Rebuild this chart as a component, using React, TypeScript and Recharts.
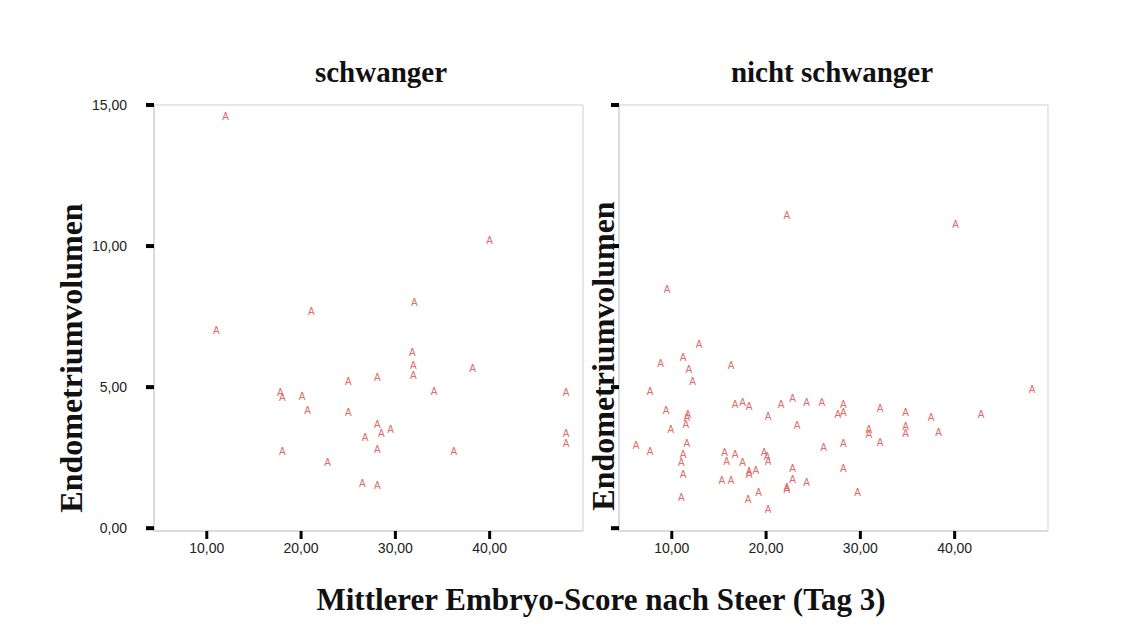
import React from 'react';
import { ScatterChart, Scatter, XAxis, YAxis, ReferenceArea } from 'recharts';

// Mittlerer Embryo-Score (x) und Endometriumvolumen (y)
const schwangerScore = [
  12.0, 11.0, 21.1, 25.0, 17.8, 18.0, 20.1, 20.7, 25.0, 26.8, 18.0, 22.8, 26.5, 32.0, 31.8,
  31.9, 31.9, 28.1, 38.2, 34.1, 48.1, 28.1, 28.5, 29.5, 28.1, 36.2, 48.1, 48.1, 28.1, 40.0,
];
const schwangerVolumen = [
  14.6, 7.0, 7.67, 5.21, 4.8, 4.64, 4.66, 4.17, 4.09, 3.23, 2.73, 2.32, 1.58, 8.0, 6.24,
  5.77, 5.41, 5.33, 5.68, 4.86, 4.8, 3.68, 3.35, 3.5, 2.79, 2.73, 3.35, 3.01, 1.5, 10.2,
];

const nichtScore = [
  22.2, 9.5, 40.1, 12.9, 8.8, 11.2, 11.8, 12.2, 16.3, 7.7, 9.4, 9.9, 11.7, 11.6, 11.5, 11.6,
  6.2, 7.7, 11.2, 11.0, 11.2, 11.0, 16.7, 17.5, 18.2, 20.2, 21.6, 22.8, 24.3, 23.3, 15.6,
  16.7, 15.8, 17.5, 19.8, 20.1, 20.2, 18.2, 18.2, 18.9, 15.3, 16.3, 22.8, 22.8, 22.2, 22.2,
  24.3, 19.2, 18.1, 20.2, 25.9, 28.2, 27.6, 28.2, 32.1, 34.8, 37.5, 42.8, 48.2, 30.9, 30.9,
  34.8, 34.8, 38.3, 32.1, 26.1, 28.2, 28.2, 29.7,
];
const nichtVolumen = [
  11.1, 8.45, 10.78, 6.53, 5.84, 6.04, 5.62, 5.21, 5.77, 4.86, 4.19, 3.5, 4.03, 3.92, 3.68, 3.01,
  2.95, 2.73, 2.62, 2.32, 1.91, 1.09, 4.39, 4.47, 4.33, 3.97, 4.39, 4.59, 4.45, 3.64, 2.68,
  2.62, 2.38, 2.32, 2.68, 2.56, 2.38, 2.03, 1.89, 2.05, 1.71, 1.71, 2.11, 1.73, 1.44, 1.38,
  1.64, 1.28, 1.03, 0.67, 4.45, 4.39, 4.03, 4.09, 4.23, 4.11, 3.92, 4.03, 4.92, 3.5, 3.33,
  3.62, 3.35, 3.41, 3.05, 2.88, 3.0, 2.11, 1.28,
];

const xTicks = [10, 20, 30, 40];
const yTicks = [0, 5, 10, 15];

const X_MIN = 4.4;
const X_MAX = 49.9;
const Y_MIN = -0.1;
const Y_MAX = 15;

const fmt = (v: number) => v.toFixed(2).replace('.', ',');

const Marker = (props: any) => {
  const { cx, cy } = props;
  return (
    <text
      x={cx}
      y={cy}
      dy="0.36em"
      textAnchor="middle"
      fontSize={10}
      fontFamily="Liberation Sans, Arial, sans-serif"
      fill="#e06a6a"
    >
      A
    </text>
  );
};

const Panel = ({
  score,
  volumen,
  left,
  showLabels,
}: {
  score: number[];
  volumen: number[];
  left: number;
  showLabels: boolean;
}) => {
  const data = score.map((x, i) => ({ x, y: volumen[i] }));
  const plotW = 429;
  return (
    <div style={{ position: 'absolute', left: 0, top: 0 }}>
      <ScatterChart
        width={1136}
        height={644}
        margin={{ top: 105, left: left - 60, right: 1136 - left - plotW, bottom: 83 }}
      >
        <XAxis
          type="number"
          dataKey="x"
          domain={[X_MIN, X_MAX]}
          ticks={xTicks}
          allowDataOverflow
          height={30}
          tickSize={8}
          tickMargin={4}
          tickFormatter={fmt}
          axisLine={{ stroke: '#cfcfcf' }}
          tickLine={{ stroke: '#000', strokeWidth: 3 }}
          tick={{ fill: '#222', fontSize: 14, fontFamily: 'Liberation Sans, Arial, sans-serif' }}
        />
        <YAxis
          type="number"
          dataKey="y"
          domain={[Y_MIN, Y_MAX]}
          ticks={yTicks}
          allowDataOverflow
          width={60}
          tickSize={8}
          tickMargin={19}
          tickFormatter={showLabels ? fmt : () => ''}
          axisLine={{ stroke: '#cfcfcf' }}
          tickLine={{ stroke: '#000', strokeWidth: 4 }}
          tick={{ fill: '#222', fontSize: 14, fontFamily: 'Liberation Sans, Arial, sans-serif' }}
        />
        <ReferenceArea
          x1={X_MIN}
          x2={X_MAX}
          y1={Y_MIN}
          y2={Y_MAX}
          fill="none"
          stroke="#cfcfcf"
          ifOverflow="visible"
        />
        <Scatter data={data} shape={Marker} isAnimationActive={false} />
      </ScatterChart>
    </div>
  );
};

const serif = 'Liberation Serif, Times New Roman, serif';

export default function App() {
  return (
    <div
      style={{
        position: 'absolute',
        left: 0,
        top: 0,
        width: 1136,
        height: 644,
        background: '#fff',
        overflow: 'hidden',
      }}
    >
      <Panel score={schwangerScore} volumen={schwangerVolumen} left={154} showLabels />
      <Panel score={nichtScore} volumen={nichtVolumen} left={619} showLabels={false} />
      <svg
        width={1136}
        height={644}
        style={{ position: 'absolute', left: 0, top: 0, pointerEvents: 'none' }}
      >
        <text x={381} y={82} textAnchor="middle" fontFamily={serif} fontWeight="bold" fontSize={29} fill="#111">
          schwanger
        </text>
        <text x={832} y={82} textAnchor="middle" fontFamily={serif} fontWeight="bold" fontSize={29} fill="#111">
          nicht schwanger
        </text>
        <text
          x={82}
          y={358}
          transform="rotate(-90, 82, 358)"
          textAnchor="middle"
          fontFamily={serif}
          fontWeight="bold"
          fontSize={32}
          fill="#111"
        >
          Endometriumvolumen
        </text>
        <text
          x={614}
          y={356}
          transform="rotate(-90, 614, 356)"
          textAnchor="middle"
          fontFamily={serif}
          fontWeight="bold"
          fontSize={32}
          fill="#111"
        >
          Endometriumvolumen
        </text>
        <text x={601} y={610} textAnchor="middle" fontFamily={serif} fontWeight="bold" fontSize={31} fill="#111">
          Mittlerer Embryo-Score nach Steer (Tag 3)
        </text>
      </svg>
    </div>
  );
}
